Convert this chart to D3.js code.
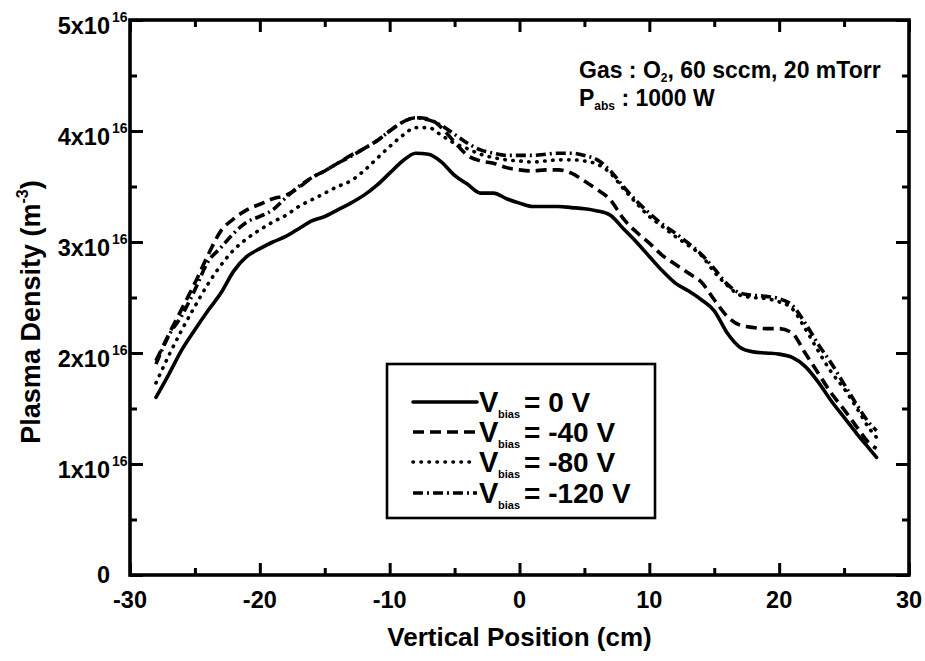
<!DOCTYPE html>
<html>
<head>
<meta charset="utf-8">
<script src="https://cdn.jsdelivr.net/npm/d3@7"></script>
<style>
  html, body { margin: 0; padding: 0; background: #fff; }
  svg { display: block; font-family: "Liberation Sans", Arial, Helvetica, sans-serif; font-weight: bold; }
</style>
</head>
<body>
<svg id="chart" width="925" height="661"></svg>
<script>
// ---------------- data ----------------
const positions = [-28,-27,-26,-25,-24,-23,-22,-21,-20,-19,-18,-17,-16,-15,-14,-13,-12,-11,-10,-9,-8,-7,-6,-5,-4,-3,-2,-1,0,1,2,3,4,5,6,7,8,9,10,11,12,13,14,15,16,17,18,19,20,21,22,23,24,25,26,27,27.5];

const bias0 = [1.60,1.81,2.03,2.21,2.38,2.54,2.74,2.87,2.94,3.00,3.05,3.12,3.19,3.23,3.29,3.35,3.42,3.51,3.62,3.73,3.80,3.79,3.72,3.60,3.52,3.44,3.44,3.39,3.35,3.32,3.32,3.32,3.31,3.30,3.28,3.24,3.12,3.00,2.87,2.74,2.63,2.56,2.48,2.38,2.18,2.05,2.01,2.00,1.99,1.96,1.88,1.74,1.57,1.42,1.27,1.13,1.06];

const bias40 = [1.93,2.17,2.40,2.63,2.88,3.10,3.21,3.29,3.34,3.39,3.42,3.49,3.58,3.64,3.71,3.78,3.84,3.91,4.00,4.08,4.12,4.11,4.03,3.90,3.78,3.73,3.71,3.67,3.65,3.64,3.65,3.65,3.62,3.55,3.47,3.38,3.21,3.09,2.99,2.88,2.80,2.72,2.64,2.48,2.33,2.25,2.23,2.22,2.22,2.18,2.00,1.82,1.64,1.49,1.33,1.18,1.14];

const bias80 = [1.73,1.98,2.21,2.42,2.62,2.79,2.93,3.03,3.11,3.18,3.24,3.32,3.38,3.44,3.50,3.55,3.64,3.75,3.86,3.96,4.03,4.03,3.96,3.89,3.84,3.79,3.76,3.74,3.73,3.72,3.73,3.74,3.74,3.73,3.70,3.62,3.48,3.35,3.23,3.14,3.05,2.97,2.88,2.73,2.61,2.52,2.50,2.49,2.46,2.40,2.22,2.02,1.83,1.68,1.50,1.31,1.24];

const bias120 = [1.90,2.16,2.34,2.57,2.82,2.95,3.08,3.18,3.23,3.29,3.40,3.50,3.58,3.64,3.71,3.77,3.84,3.91,4.00,4.08,4.12,4.10,4.05,3.97,3.89,3.83,3.80,3.78,3.78,3.78,3.79,3.80,3.80,3.78,3.74,3.64,3.50,3.37,3.26,3.16,3.08,2.99,2.89,2.76,2.62,2.54,2.52,2.51,2.49,2.43,2.27,2.08,1.91,1.72,1.53,1.36,1.30];

const seriesNames = ["0 V", "-40 V", "-80 V", "-120 V"];
const seriesValues = [bias0, bias40, bias80, bias120];

const xTicks = [-30,-20,-10,0,10,20,30];
const xMinorTicks = [-25,-15,-5,5,15,25];
const yTicks = [0,1,2,3,4,5];
const yMinorTicks = [0.5,1.5,2.5,3.5,4.5];
const yTickMantissa = ["0","1x10","2x10","3x10","4x10","5x10"];
const yTickExponent = ["","16","16","16","16","16"];

const xTitle = "Vertical Position (cm)";
const yTitle = "Plasma Density (m";
const yTitleSup = "-3";

// ---------------- layout ----------------
const svg = d3.select("#chart");
const L = 130, R = 909, T = 20, B = 575;
const x = d3.scaleLinear().domain([-30, 30]).range([L, R]);
const y = d3.scaleLinear().domain([0, 5]).range([B, T]);

const dashes = ["none", "11,6", "0.5,7.5", "10,4,2,4"];
const caps = ["round", "butt", "round", "butt"];

// lines
const line = d3.line().x(d => x(d[0])).y(d => y(d[1])).curve(d3.curveMonotoneX);
seriesValues.forEach((vals, i) => {
  const pts = positions.map((p, k) => [p, vals[k]]);
  svg.append("path")
    .attr("d", line(pts))
    .attr("fill", "none")
    .attr("stroke", "#000")
    .attr("stroke-width", 3.6)
    .attr("stroke-linejoin", "round")
    .attr("stroke-linecap", caps[i])
    .attr("stroke-dasharray", dashes[i] === "none" ? null : dashes[i]);
});

// axes (ticks inward, mirrored)
function styleAxis(g) {
  g.select(".domain").remove();
  g.selectAll(".tick line").attr("stroke", "#000").attr("stroke-width", 3);
  g.selectAll(".tick text").remove();
}
svg.append("g").attr("transform", `translate(0,${B})`)
  .call(d3.axisBottom(x).tickValues(xTicks).tickSize(-12).tickFormat("")).call(styleAxis);
svg.append("g").attr("transform", `translate(0,${B})`)
  .call(d3.axisBottom(x).tickValues(xMinorTicks).tickSize(-7).tickFormat("")).call(styleAxis);
svg.append("g").attr("transform", `translate(0,${T})`)
  .call(d3.axisTop(x).tickValues(xTicks).tickSize(-12).tickFormat("")).call(styleAxis);
svg.append("g").attr("transform", `translate(0,${T})`)
  .call(d3.axisTop(x).tickValues(xMinorTicks).tickSize(-7).tickFormat("")).call(styleAxis);
svg.append("g").attr("transform", `translate(${L},0)`)
  .call(d3.axisLeft(y).tickValues(yTicks).tickSize(-13).tickFormat("")).call(styleAxis);
svg.append("g").attr("transform", `translate(${L},0)`)
  .call(d3.axisLeft(y).tickValues(yMinorTicks).tickSize(-7).tickFormat("")).call(styleAxis);
svg.append("g").attr("transform", `translate(${R},0)`)
  .call(d3.axisRight(y).tickValues(yTicks).tickSize(-13).tickFormat("")).call(styleAxis);
svg.append("g").attr("transform", `translate(${R},0)`)
  .call(d3.axisRight(y).tickValues(yMinorTicks).tickSize(-7).tickFormat("")).call(styleAxis);

// frame
svg.append("rect").attr("x", L).attr("y", T).attr("width", R - L).attr("height", B - T)
  .attr("fill", "none").attr("stroke", "#000").attr("stroke-width", 3.6);

// x tick labels
svg.append("g").selectAll("text").data(xTicks).join("text")
  .attr("x", d => x(d)).attr("y", B + 33)
  .attr("text-anchor", "middle").attr("font-size", 23.5)
  .text(d => d);

// y tick labels
yTicks.forEach((v, i) => {
  const ty = y(v);
  if (yTickExponent[i] === "") {
    svg.append("text").attr("x", 110).attr("y", ty + 8)
      .attr("text-anchor", "end").attr("font-size", 23.5).text(yTickMantissa[i]);
  } else {
    svg.append("text").attr("x", 110).attr("y", ty + 14)
      .attr("text-anchor", "end").attr("font-size", 23.5).text(yTickMantissa[i]);
    svg.append("text").attr("x", 112).attr("y", ty + 2)
      .attr("text-anchor", "start").attr("font-size", 14).text(yTickExponent[i]);
  }
});

// axis titles
svg.append("text").attr("x", (L + R) / 2).attr("y", 646)
  .attr("text-anchor", "middle").attr("font-size", 26).text(xTitle);

const yt = svg.append("text").attr("transform", `translate(40,312) rotate(-90)`)
  .attr("text-anchor", "middle").attr("font-size", 27);
yt.append("tspan").text(yTitle);
yt.append("tspan").attr("font-size", 16).attr("dy", -12).text(yTitleSup);
yt.append("tspan").attr("dy", 12).text(")");

// annotation
const a1 = svg.append("text").attr("x", 579).attr("y", 78).attr("font-size", 23);
a1.append("tspan").text("Gas : O");
a1.append("tspan").attr("font-size", 12).attr("dy", 4).text("2");
a1.append("tspan").attr("dy", -4).text(", 60 sccm, 20 mTorr");
const a2 = svg.append("text").attr("x", 579).attr("y", 106).attr("font-size", 23);
a2.append("tspan").text("P");
a2.append("tspan").attr("font-size", 12).attr("dy", 4).text("abs");
a2.append("tspan").attr("dy", -4).text(" : 1000 W");

// legend
svg.append("rect").attr("x", 387).attr("y", 364).attr("width", 268).attr("height", 154)
  .attr("fill", "#fff").attr("stroke", "#000").attr("stroke-width", 2.6);
const legRowY = [402, 432, 462, 493];
seriesNames.forEach((name, i) => {
  const ly = legRowY[i];
  svg.append("line").attr("x1", 413).attr("x2", 477).attr("y1", ly).attr("y2", ly)
    .attr("stroke", "#000").attr("stroke-width", 3.6)
    .attr("stroke-linecap", caps[i])
    .attr("stroke-dasharray", dashes[i] === "none" ? null : dashes[i]);
  svg.append("text").attr("x", 479).attr("y", ly + 10).attr("font-size", 29).text("V");
  svg.append("text").attr("x", 498).attr("y", ly + 16).attr("font-size", 11).text("bias");
  svg.append("text").attr("x", 524).attr("y", ly + 10).attr("font-size", 28).text("= " + name);
});
</script>
</body>
</html>
